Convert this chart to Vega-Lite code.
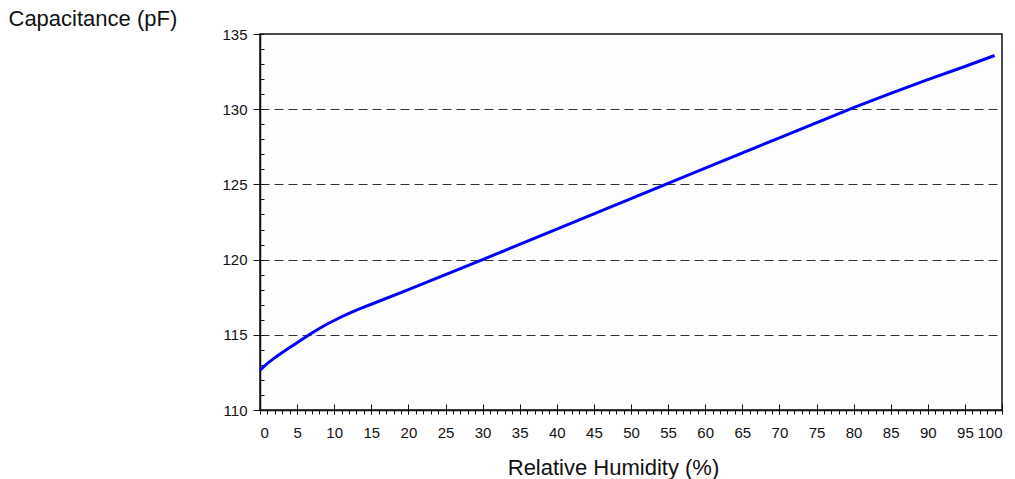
{
  "$schema": "https://vega.github.io/schema/vega-lite/v6.json",
  "width": 742,
  "height": 376,
  "autosize": {"type": "none"},
  "padding": {"left": 260, "top": 34, "right": 13, "bottom": 69},
  "background": "#ffffff",
  "config": {
    "view": {"stroke": "#111111", "strokeWidth": 1.5, "fill": "#fdfdfd"},
    "font": "Liberation Sans",
    "axis": {"labelFont": "Liberation Sans", "titleFont": "Liberation Sans", "labelColor": "#111111", "titleColor": "#111111", "tickColor": "#111111", "domainColor": "#111111", "titleFontWeight": "normal"}
  },
  "data": {
    "values": [
      {"rh": 0, "c": 112.65},
      {"rh": 1, "c": 113.1},
      {"rh": 2, "c": 113.48},
      {"rh": 3, "c": 113.82},
      {"rh": 4, "c": 114.15},
      {"rh": 5, "c": 114.47},
      {"rh": 6, "c": 114.8},
      {"rh": 7, "c": 115.12},
      {"rh": 8, "c": 115.42},
      {"rh": 9, "c": 115.7},
      {"rh": 10, "c": 115.95},
      {"rh": 11, "c": 116.2},
      {"rh": 12, "c": 116.43},
      {"rh": 13, "c": 116.64},
      {"rh": 14, "c": 116.84},
      {"rh": 15, "c": 117.03},
      {"rh": 20, "c": 118.0},
      {"rh": 30, "c": 120.0},
      {"rh": 40, "c": 122.03},
      {"rh": 50, "c": 124.06},
      {"rh": 60, "c": 126.08},
      {"rh": 70, "c": 128.1},
      {"rh": 80, "c": 130.1},
      {"rh": 85, "c": 131.05},
      {"rh": 90, "c": 131.97},
      {"rh": 95, "c": 132.84},
      {"rh": 99, "c": 133.57}
    ]
  },
  "resolve": {"axis": {"x": "independent", "y": "independent"}},
  "layer": [
    {
      "mark": {"type": "line", "opacity": 0},
      "encoding": {
        "x": {"field": "rh", "type": "quantitative", "scale": {"domain": [0, 100], "nice": false},
          "axis": {"orient": "bottom", "values": [0,1,2,3,4,5,6,7,8,9,10,11,12,13,14,15,16,17,18,19,20,21,22,23,24,25,26,27,28,29,30,31,32,33,34,35,36,37,38,39,40,41,42,43,44,45,46,47,48,49,50,51,52,53,54,55,56,57,58,59,60,61,62,63,64,65,66,67,68,69,70,71,72,73,74,75,76,77,78,79,80,81,82,83,84,85,86,87,88,89,90,91,92,93,94,95,96,97,98,99,100], "tickSize": 4, "labels": false, "domain": false, "grid": false, "title": null}},
        "y": {"field": "c", "type": "quantitative", "scale": {"domain": [110, 135], "nice": false, "zero": false},
          "axis": {"orient": "left", "values": [115, 120, 125, 130], "grid": true, "gridDash": [9, 5], "gridColor": "#333333", "gridWidth": 1.2, "ticks": false, "labels": false, "domain": false, "title": null}}
      }
    },
    {
      "mark": {"type": "line", "opacity": 0},
      "encoding": {
        "x": {"field": "rh", "type": "quantitative",
          "axis": {"orient": "bottom", "values": [0,5,10,15,20,25,30,35,40,45,50,55,60,65,70,75,80,85,90,95,100], "tickSize": -6, "labels": false, "domain": false, "grid": false, "title": null}},
        "y": {"field": "c", "type": "quantitative",
          "axis": {"orient": "left", "values": [110,111,112,113,114,115,116,117,118,119,120,121,122,123,124,125,126,127,128,129,130,131,132,133,134,135], "tickSize": -4, "labels": false, "domain": false, "grid": false, "title": null}}
      }
    },
    {
      "mark": {"type": "line", "color": "#0000ff", "strokeWidth": 3},
      "encoding": {
        "x": {"field": "rh", "type": "quantitative",
          "axis": {"orient": "bottom", "values": [0,5,10,15,20,25,30,35,40,45,50,55,60,65,70,75,80,85,90,95,100], "tickSize": 4, "labelFontSize": 15, "labelPadding": 11, "domainWidth": 1.5, "grid": false,
            "title": "Relative Humidity (%)", "titleFontSize": 22, "titleX": 353, "titleY": 64, "titleBaseline": "alphabetic", "titleAlign": "center"}},
        "y": {"field": "c", "type": "quantitative",
          "axis": {"orient": "left", "values": [110,115,120,125,130,135], "tickSize": 7, "labelFontSize": 15, "labelPadding": 6, "domainWidth": 1.5, "grid": false,
            "title": "Capacitance (pF)", "titleFontSize": 22, "titleAngle": 0, "titleAlign": "left", "titleBaseline": "alphabetic", "titleX": -252, "titleY": -9}}
      }
    }
  ]
}
